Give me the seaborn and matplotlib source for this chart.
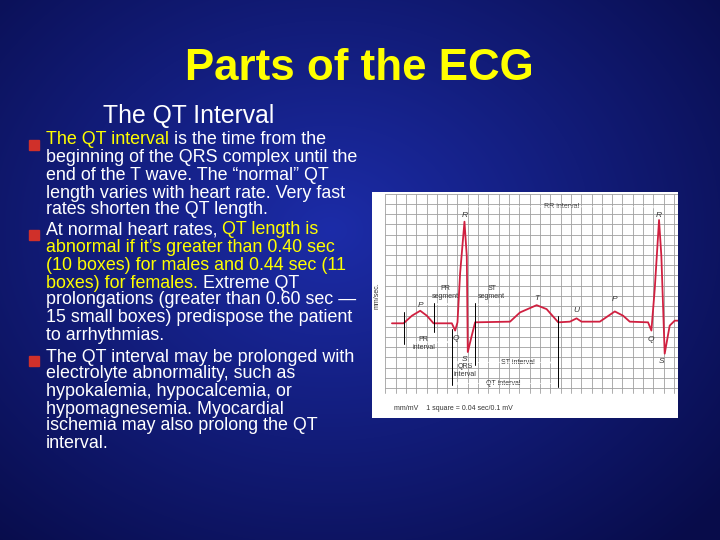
import numpy as np
import matplotlib
matplotlib.use("Agg")
import matplotlib.pyplot as plt
import seaborn as sns
import pandas as pd

sns.set_style("white")
plt.rcParams['font.family'] = ['Liberation Sans', 'DejaVu Sans']

# ECG trace (image units: x to right, y down)
ecg_x = [65,100,125,150,170,190,245,255,262,270,283,290,293,305,315,420,450,500,530,565,600,620,635,690,735,760,780,835,845,855,868,875,885,900,915,925]
ecg_y = [403,403,380,365,380,403,403,425,400,250,95,200,490,440,400,398,370,348,360,400,398,388,398,398,367,380,398,400,425,300,90,200,495,410,395,395]

title = "Parts of the ECG"
subtitle = "The QT Interval"
Y, W = "#ffff00", "#ffffff"
lines = [
    [("The QT interval", Y), (" is the time from the", W)],
    [("beginning of the QRS complex until the", W)],
    [("end of the T wave. The \u201cnormal\u201d QT", W)],
    [("length varies with heart rate. Very fast", W)],
    [("rates shorten the QT length.", W)],
    [("At normal heart rates, ", W), ("QT length is", Y)],
    [("abnormal if it\u2019s greater than 0.40 sec", Y)],
    [("(10 boxes) for males and 0.44 sec (11", Y)],
    [("boxes) for females.", Y), (" Extreme QT", W)],
    [("prolongations (greater than 0.60 sec \u2014", W)],
    [("15 small boxes) predispose the patient", W)],
    [("to arrhythmias.", W)],
    [("The QT interval may be prolonged with", W)],
    [("electrolyte abnormality, such as", W)],
    [("hypokalemia, hypocalcemia, or", W)],
    [("hypomagnesemia. Myocardial", W)],
    [("ischemia may also prolong the QT", W)],
    [("interval.", W)],
]
line_y = [140,158,175,193,210,230,248,265,283,300,318,335,357,374,391,409,426,443]
bullet_y = [145, 235, 361]

fig = plt.figure(figsize=(7.2, 5.4), dpi=100)
bg = fig.add_axes([0, 0, 1, 1])
yy, xx = np.mgrid[0:540, 0:720]
d = np.sqrt(((xx - 330) / 520) ** 2 + ((yy - 230) / 420) ** 2)
d = np.clip(d, 0, 1)[..., None]
c0 = np.array([0x1c, 0x2c, 0xa8]) / 255
c1 = np.array([0x08, 0x0c, 0x4a]) / 255
bg.imshow(c0 * (1 - d) + c1 * d, extent=[0, 720, 540, 0], aspect='auto')
bg.set_xlim(0, 720); bg.set_ylim(540, 0); bg.axis('off')

bg.text(359, 68, title, color=Y, fontsize=31.6, fontweight='bold', ha='center', va='center')
bg.text(189, 116, subtitle, color=W, fontsize=17.8, ha='center', va='center')
for by in bullet_y:
    bg.add_patch(plt.Rectangle((29, by - 5), 10, 10, color="#d0302a"))

fig.canvas.draw()
r = fig.canvas.get_renderer()
for segs, ly in zip(lines, line_y):
    x = 46
    for s, col in segs:
        t = bg.text(x, ly, s, color=col, fontsize=12.9, va='center', ha='left')
        ext = t.get_window_extent(r)
        x += ext.width
# ECG inset
ax = fig.add_axes([372 / 720, 1 - 418 / 540, 306 / 720, 226 / 540])
ax.set_facecolor("white")
ax.set_xlim(5, 925); ax.set_ylim(690, 5)
for gx in range(45, 925, 31):
    ax.plot([gx, gx], [10, 615], color="#a0a0a0", lw=0.6, zorder=0)
for gy in range(10, 620, 31):
    ax.plot([45, 925], [gy, gy], color="#a0a0a0", lw=0.6, zorder=0)
df = pd.DataFrame({"x": ecg_x, "y": ecg_y})
sns.lineplot(data=df, x="x", y="y", ax=ax, color="#d02040", lw=1.3, sort=False, estimator=None)
ax.set_xticks([]); ax.set_yticks([]); ax.set_xlabel(""); ax.set_ylabel("")
for sp in ax.spines.values():
    sp.set_visible(False)
k = dict(fontsize=5, color="#333333", ha='center', va='center')
ax.text(20, 320, "mm/sec.", rotation=90, **k)
ax.text(250, 660, "mm/mV    1 square = 0.04 sec/0.1 mV", **k)
ax.text(575, 50, "RR interval", **k)
ax.text(160, 465, "PR\ninterval", **k)
ax.text(225, 310, "PR\nsegment", **k)
ax.text(365, 310, "ST\nsegment", **k)
ax.text(445, 522, "ST interval", **k)
ax.text(285, 545, "QRS\ninterval", **k)
ax.text(400, 585, "QT interval", **k)
for lbl, x, y in [("R", 285, 75), ("R", 868, 75), ("P", 150, 350), ("T", 500, 328), ("U", 618, 365),
                  ("P", 735, 330), ("Q", 257, 450), ("S", 283, 512), ("Q", 842, 452), ("S", 875, 520)]:
    ax.text(x, y, lbl, fontsize=6, style='italic', color="#333333", ha='center', va='center')
for xv, y0, y1 in [(100, 370, 465), (190, 340, 430), (315, 340, 530), (565, 380, 595), (245, 420, 590)]:
    ax.plot([xv, xv], [y0, y1], color="black", lw=0.7)
for x0, x1, y in [(285, 868, 50), (100, 245, 460), (190, 245, 345), (315, 420, 345),
                  (315, 555, 522), (245, 315, 522), (245, 565, 585)]:
    ax.annotate("", xy=(x1, y), xytext=(x0, y), arrowprops=dict(arrowstyle="<->", lw=0.5, mutation_scale=4))

fig.savefig("out.png", dpi=100)
